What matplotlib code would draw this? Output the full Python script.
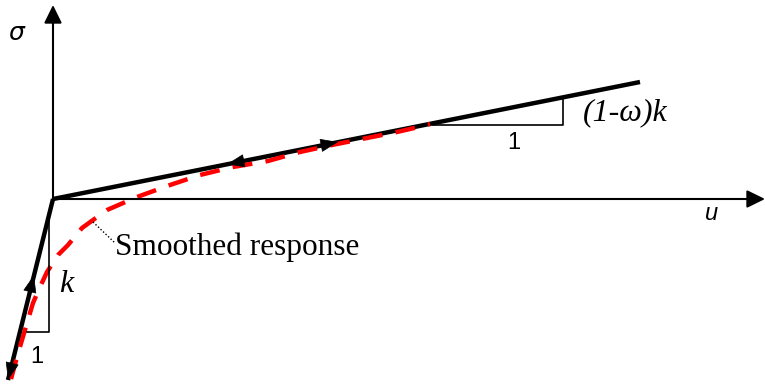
import numpy as np
import matplotlib.pyplot as plt

# ---- data (u, sigma), origin at the axes crossing ----
elastic_u = [0, -45]
elastic_s = [0, -181]
soft_u = [0, 587]
soft_s = [0, 117]

smooth_u = [-42, -36, -31, -26, -20, -13, -6, 5, 15, 29, 40, 54, 84, 117, 147, 180, 215, 247, 279, 344, 370, 377]
smooth_s = [-180, -158, -141, -124, -104, -88, -73, -56, -46, -29, -21, -11, 2, 14, 24, 32, 38, 47, 54, 67, 73, 75]

# slope triangles
tri_soft_u = [380, 510, 510]
tri_soft_s = [74, 74, 102]
tri_el_u = [-4, -4, -26]
tri_el_s = [-17, -133, -133]

fig = plt.figure(figsize=(7.65, 3.85), dpi=100)
ax = fig.add_axes([0, 0, 1, 1])
ax.set_xlim(-53, 712)
ax.set_ylim(-186, 199)
ax.axis('off')

# axes with arrows
axis_head = '-|>,head_length=0.55,head_width=0.27'
ax.annotate('', xy=(712, 0), xytext=(0, 0), annotation_clip=False,
            arrowprops=dict(arrowstyle=axis_head, color='black', lw=1.5,
                            mutation_scale=20, shrinkA=0, shrinkB=0))
ax.annotate('', xy=(0, 194), xytext=(0, 0), annotation_clip=False,
            arrowprops=dict(arrowstyle=axis_head, color='black', lw=1.5,
                            mutation_scale=20, shrinkA=0, shrinkB=0))

# response lines
ax.plot(soft_u, soft_s, color='black', lw=3.2, solid_capstyle='butt')
ax.plot(elastic_u, elastic_s, color='black', lw=3.2, solid_capstyle='butt')
ax.plot(smooth_u, smooth_s, color='red', lw=3.2, dashes=(4.5, 3.0))

# slope triangles
ax.plot(tri_soft_u, tri_soft_s, color='black', lw=1.2)
ax.plot(tri_el_u, tri_el_s, color='black', lw=1.2)

# direction arrows on the lines
def head(tip, back):
    ax.annotate('', xy=tip, xytext=back, annotation_clip=False,
                arrowprops=dict(arrowstyle='-|>,head_length=0.58,head_width=0.22',
                                color='black', lw=0.5,
                                mutation_scale=20, shrinkA=0, shrinkB=0))

head((174, 34.8), (190, 38.0))
head((285, 57.0), (269, 53.8))
head((-19, -76), (-23, -92))
head((-45, -181), (-41, -165))

# labels
serif = 'Liberation Serif'
sans = 'Liberation Sans'
ax.text(-36, 166, r'$\sigma$', fontsize=18, ha='center', va='center')
ax.text(659, -14, 'u', fontsize=17, family=sans, style='italic', ha='center', va='center')
ax.text(572, 86, '(1-ω)k', fontsize=23, family=serif, style='italic', ha='center', va='center')
ax.text(461, 56, '1', fontsize=17, family=sans, ha='center', va='center')
ax.text(13, -86, 'k', fontsize=23, family=serif, style='italic', ha='center', va='center')
ax.text(-16, -158, '1', fontsize=17, family=sans, ha='center', va='center')
ax.text(62, -48, 'Smoothed response', fontsize=22.5, family=serif, ha='left', va='center')
ax.plot([40, 62], [-23, -44], color='black', lw=1, ls=(0, (1, 1.5)))

fig.savefig('out.png', dpi=100)
